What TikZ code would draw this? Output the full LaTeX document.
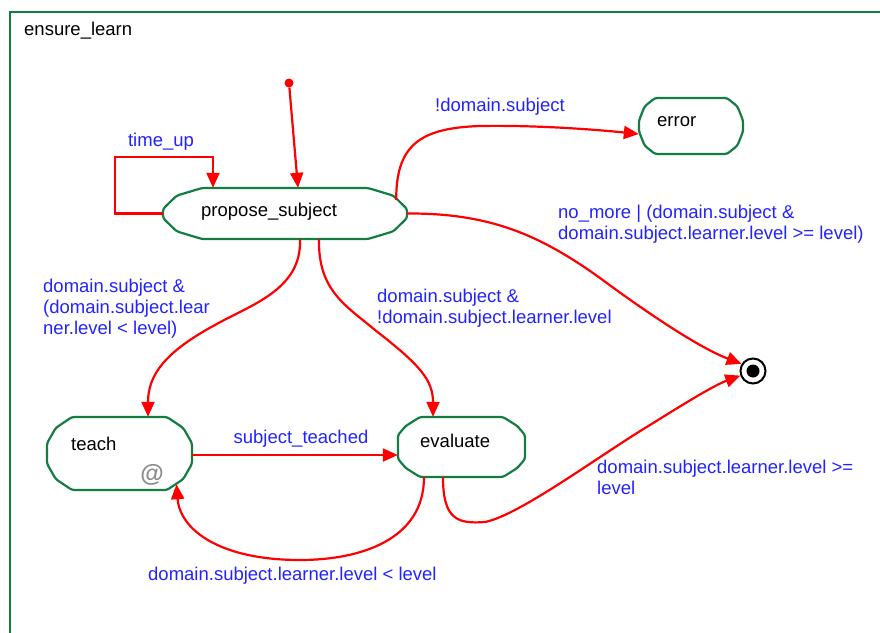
\documentclass[tikz,border=0pt]{standalone}
\usepackage{fontspec}
\setmainfont{Liberation Sans}
\usetikzlibrary{arrows.meta,calc}
\definecolor{sgreen}{RGB}{20,125,65}
\definecolor{lblue}{RGB}{35,35,255}
\definecolor{tred}{RGB}{255,0,0}
\tikzset{
  stateline/.style={draw=sgreen, line width=2.2pt, rounded corners=2.5pt, line join=round},
  statebox/.style={draw=none, inner sep=0pt, rectangle},
  trans/.style={draw=tred, line width=2.2pt, -{Triangle[length=15pt,width=13pt]}},
  lbl/.style={text=lblue, inner sep=0pt, align=left, font=\fontsize{18.5}{21}\selectfont},
  stxt/.style={text=black, inner sep=0pt, font=\fontsize{18.5}{21}\selectfont},
}
% name, x1, y1, x2, y2, end depth, fraction of height where the side turns vertical
\newcommand\mystate[7]{%
  \node[statebox, minimum width={(#4-#2)*1pt}, minimum height={(#5-#3)*1pt}] (#1) at ({(#2+#4)/2},{(#3+#5)/2}) {};
  \draw[stateline] ({#2+#6},#3) -- ({#4-#6},#3)
    -- ({#4-0.35*#6},{#3+0.15*(#5-#3)}) -- (#4,{#3+#7*(#5-#3)})
    -- (#4,{#5-#7*(#5-#3)}) -- ({#4-0.35*#6},{#5-0.15*(#5-#3)})
    -- ({#4-#6},#5) -- ({#2+#6},#5)
    -- ({#2+0.35*#6},{#5-0.15*(#5-#3)}) -- (#2,{#5-#7*(#5-#3)})
    -- (#2,{#3+#7*(#5-#3)}) -- ({#2+0.35*#6},{#3+0.15*(#5-#3)}) -- cycle;
}
\begin{document}
\begin{tikzpicture}[x=1pt,y=-1pt]
\useasboundingbox (0,0) rectangle (880,632);
\fill[white] (0,0) rectangle (880,632);
% frame
\draw[sgreen, line width=2.2pt] (10,12) rectangle (895,645);
\node[stxt, anchor=west] (title) at (24,31) {ensure\_learn};

% states
\mystate{propose}{163}{188}{407}{239}{39}{0.41}
\mystate{error}{639}{98}{743}{154}{16}{0.4}
\mystate{teach}{47}{417}{192}{490}{25}{0.36}
\mystate{evaluate}{398}{417}{525}{477}{22}{0.3}

\node[stxt, anchor=west] (proposetxt) at (201,212) {propose\_subject};
\node[stxt, anchor=west] (errortxt) at (657,122) {error};
\node[stxt, anchor=west] (teachtxt) at (71,444) {teach};
\node[stxt, anchor=west] (evaluatetxt) at (420,441) {evaluate};
\node[inner sep=0pt, text=black!45, font=\fontsize{24}{26}\selectfont\bfseries] (at) at (152,475) {@};

% initial and final
\node[circle, fill=tred, inner sep=0pt, minimum size=9pt] (init) at (289,83) {};
\node[circle, draw=black, fill=white, line width=2pt, inner sep=0pt, minimum size=25pt] (final) at (753,371) {};
\node[circle, fill=black, inner sep=0pt, minimum size=13pt] (finaldot) at (final.center) {};

% transitions
\draw[trans] (init) -- ([xshift=13pt]propose.north);
\draw[trans] (propose.west) -- ++(-48,0) |- ($(propose.north)+(-72,-31)$) -- ($(propose.north)+(-72,0)$);
\draw[trans] ($(propose.north east)+(-11,12)$) .. controls (396,145) and (420,128) .. (480,126) .. controls (540,125) and (600,130) .. ($(error.west)+(0,8)$);
\draw[trans] (propose.east) .. controls (490,213) and (540,235) .. (600,278) .. controls (650,315) and (700,348) .. (final.148);
\draw[trans] ($(propose.south)+(15,0)$) .. controls (302,290) and (250,305) .. (215,325) .. controls (165,352) and (148,375) .. ($(teach.north)+(28.5,0)$);
\draw[trans] ($(propose.south)+(34,0)$) .. controls (318,290) and (345,305) .. (375,330) .. controls (420,365) and (433,380) .. ($(evaluate.north)+(-28.5,0)$);
\draw[trans] ($(teach.east)+(0,1.5)$) -- ($(evaluate.west)+(0,8)$);
\draw[trans] ($(evaluate.south)+(-37.5,0)$) .. controls (424,540) and (360,560) .. (300,560) .. controls (220,560) and (180,530) .. ($(teach.south)+(57,-6)$);
\draw[trans] ($(evaluate.south)+(-18.5,0)$) .. controls (443,520) and (458,524) .. (485,522) .. controls (520,515) and (600,455) .. (650,425) .. controls (690,400) and (715,385) .. (final.200);

% labels
\node[lbl] (ltime) at (161,142) {time\_up};
\node[lbl, anchor=west] (lerr) at (435,107) {!domain.subject};
\node[lbl, anchor=west] (lnomore) at (558,224) {no\_more | (domain.subject \&\\domain.subject.learner.level >= level)};
\node[lbl, anchor=west] (lteach) at (43,309) {domain.subject \&\\(domain.subject.lear\\ner.level < level)};
\node[lbl, anchor=west] (leval) at (377,308) {domain.subject \&\\!domain.subject.learner.level};
\node[lbl] (lteached) at (301,439) {subject\_teached};
\node[lbl, anchor=west] (lback) at (148,576) {domain.subject.learner.level < level};
\node[lbl, anchor=west] (lge) at (597,477) {domain.subject.learner.level >=\\level};
\end{tikzpicture}
\end{document}
